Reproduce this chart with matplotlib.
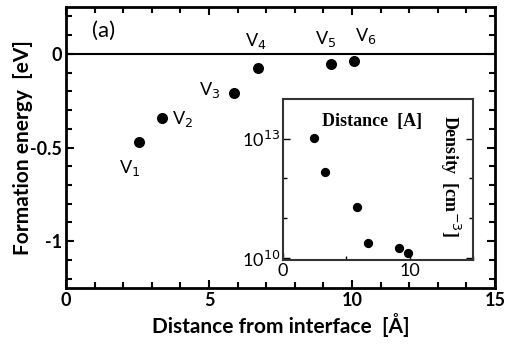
import matplotlib.pyplot as plt
import numpy as np
from matplotlib.ticker import FixedLocator, MultipleLocator

# main panel: formation energy of vacancies
distance = [2.55, 3.36, 5.87, 6.71, 9.27, 10.07]
energy = [-0.47, -0.34, -0.21, -0.073, -0.053, -0.037]
labels = ["V$_1$", "V$_2$", "V$_3$", "V$_4$", "V$_5$", "V$_6$"]
label_offsets = [(-14, -19), (7, -1), (-25, 2), (-9, 19), (-11.5, 17.5), (1, 18)]

# inset: density vs distance
inset_distance = [2.44, 3.3, 5.83, 6.7, 9.13, 9.9]
inset_density = [10**13.03, 10**12.17, 10**11.29, 10**10.38, 10**10.25, 10**10.13]

sans = ["Lato", "DejaVu Sans"]
serif = ["Liberation Serif", "DejaVu Serif"]

fig = plt.figure(figsize=(5.1, 3.45), dpi=100)
ax = fig.add_axes([0.1294, 0.1652, 0.8412, 0.8145])

ax.axhline(0, color="black", lw=1.5, zorder=1)
ax.scatter(distance, energy, s=48, color="black", zorder=3)
for x, y, lab, off in zip(distance, energy, labels, label_offsets):
    ax.annotate(lab, (x, y), xytext=off, textcoords="offset points",
                fontsize=13, family=sans, ha="left", va="center")

ax.set_xlim(0, 15)
ax.set_ylim(-1.25, 0.25)
ax.xaxis.set_major_locator(FixedLocator([0, 5, 10, 15]))
ax.xaxis.set_minor_locator(MultipleLocator(1))
ax.yaxis.set_major_locator(FixedLocator([-1, -0.5, 0]))
ax.yaxis.set_minor_locator(MultipleLocator(0.1))
ax.set_yticklabels(["-1", "-0.5", "0"])
ax.tick_params(which="both", direction="in", top=True, right=True, width=1.5)
ax.tick_params(which="major", length=6, labelsize=13, pad=3)
ax.tick_params(which="minor", length=4)
for lab in ax.get_xticklabels() + ax.get_yticklabels():
    lab.set_family(sans)
    lab.set_fontweight("bold")
for sp in ax.spines.values():
    sp.set_linewidth(2)

ax.set_xlabel("Distance from interface  [Å]", fontsize=15, fontweight="bold",
              family=sans, labelpad=3)
ax.set_ylabel("Formation energy  [eV]", fontsize=15, fontweight="bold",
              family=sans)
ax.yaxis.set_label_coords(-0.078, 0.5)
ax.text(0.088, 0.915, "(a)", transform=ax.transAxes, fontsize=16,
        family=sans, ha="center", va="center")

# inset
ins = fig.add_axes([0.5549, 0.2464, 0.3725, 0.4667])
ins.scatter(inset_distance, inset_density, s=32, color="black", zorder=3)
ins.set_xlim(0, 15)
ins.set_yscale("log")
ins.set_ylim(10**9.95, 1e14)
ins.xaxis.set_major_locator(FixedLocator([0, 10]))
ins.xaxis.set_minor_locator(FixedLocator([5, 15]))
ins.yaxis.set_major_locator(FixedLocator([1e10, 1e13]))
ins.yaxis.set_minor_locator(FixedLocator([1e11, 1e12]))
ins.set_yticklabels(["10$^{10}$", "10$^{13}$"])
ins.tick_params(which="both", direction="in", right=True, width=1)
ins.tick_params(which="major", length=5, labelsize=13, pad=2)
ins.tick_params(which="minor", length=3, labelleft=False)
for lab in ins.get_xticklabels() + ins.get_yticklabels():
    lab.set_family(sans)
for sp in ins.spines.values():
    sp.set_linewidth(1.5)
    sp.set_color("#333333")

ins.text(0.47, 0.86, "Distance  [A]", transform=ins.transAxes, fontsize=13,
         fontweight="bold", family=serif, ha="center", va="center")
ins.text(0.88, 0.52, "Density  [cm$^{-3}$]", transform=ins.transAxes,
         fontsize=13, fontweight="bold", family=serif, rotation=-90,
         ha="center", va="center")

fig.savefig("out.png", dpi=100)
